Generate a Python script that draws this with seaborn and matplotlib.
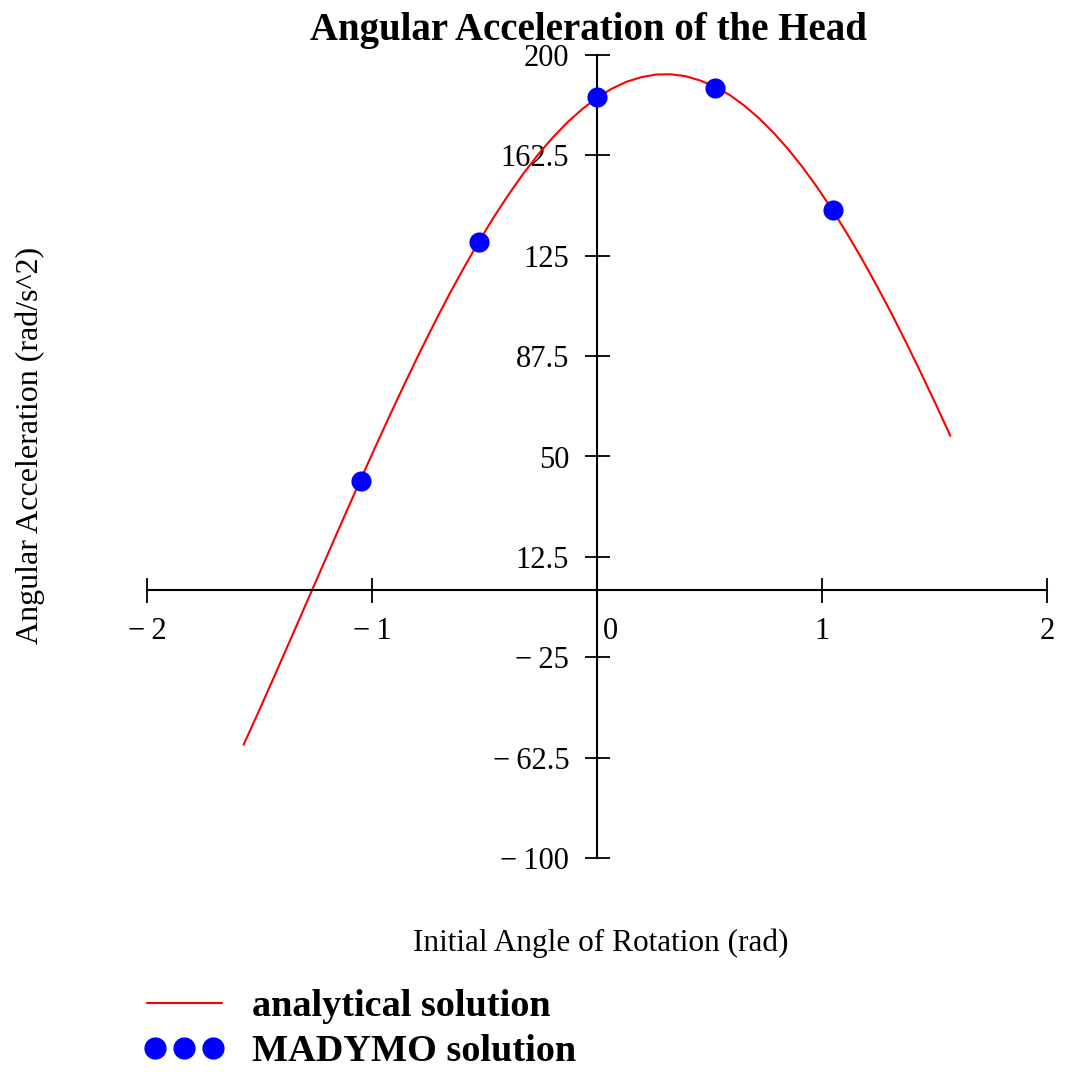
import matplotlib
matplotlib.use("Agg")
import matplotlib.pyplot as plt
import matplotlib.transforms as mtransforms
from matplotlib.lines import Line2D
from matplotlib.legend_handler import HandlerLine2D
import seaborn as sns

# Analytical solution sampled over the initial angle (rad)
angle = [-1.5708, -1.5053, -1.4399, -1.3744, -1.3090, -1.2435, -1.1781,
         -1.1126, -1.0472, -0.9817, -0.9163, -0.8508, -0.7854, -0.7199,
         -0.6545, -0.5890, -0.5236, -0.4581, -0.3927, -0.3272, -0.2618,
         -0.1963, -0.1309, -0.0654, 0.0000, 0.0654, 0.1309, 0.1963,
         0.2618, 0.3272, 0.3927, 0.4581, 0.5236, 0.5890, 0.6545,
         0.7199, 0.7854, 0.8508, 0.9163, 0.9817, 1.0472, 1.1126,
         1.1781, 1.2435, 1.3090, 1.3744, 1.4399, 1.5053, 1.5708]
analytical = [-57.7, -45.6, -33.2, -20.7, -8.1, 4.5, 17.1,
              29.6, 42.0, 54.2, 66.2, 77.9, 89.3, 100.3,
              110.9, 120.9, 130.5, 139.5, 147.9, 155.7, 162.8,
              169.2, 174.9, 179.8, 184.0, 187.4, 190.0, 191.7,
              192.7, 192.8, 192.1, 190.5, 188.2, 185.1, 181.1,
              176.4, 170.9, 164.7, 157.8, 150.2, 142.0, 133.1,
              123.7, 113.8, 103.4, 92.5, 81.2, 69.6, 57.7]

# MADYMO simulation results
madymo_angle = [-1.047, -0.524, 0.000, 0.524, 1.047]
madymo_accel = [40.8, 130.3, 184.3, 187.6, 142.0]

x_ticks = [-2, -1, 0, 1, 2]
x_tick_labels = ["\u2212\u20092", "\u2212\u20091", "0", "1", "2"]
y_ticks = [200, 162.5, 125, 87.5, 50, 12.5, -25, -62.5, -100]
y_tick_labels = ["200", "162.5", "125", "87.5", "50", "12.5",
                 "\u2212\u200925", "\u2212\u200962.5", "\u2212\u2009100"]

sns.set_style("white")
plt.rcParams["font.family"] = ["Liberation Serif", "DejaVu Serif"]
plt.rcParams["text.color"] = "black"
plt.rcParams["axes.labelcolor"] = "black"

W, H = 1067, 1072
fig = plt.figure(figsize=(W / 100, H / 100), dpi=100)
ax = fig.add_axes([147 / W, 1 - 858 / H, (1047 - 147) / W, (858 - 55) / H])

sns.lineplot(x=angle, y=analytical, color="red", linewidth=1.5, ax=ax,
             sort=False, estimator=None)
sns.scatterplot(x=madymo_angle, y=madymo_accel, color="blue", s=210,
                marker="o", edgecolor="blue", linewidth=0, ax=ax, zorder=5)

ax.set_xlim(-2, 2)
ax.set_ylim(-100, 200)

# Axes crossing at the origin
for side in ("top", "right"):
    ax.spines[side].set_visible(False)
ax.spines["left"].set_position(("data", 0))
ax.spines["bottom"].set_position(("data", 0))
for side in ("left", "bottom"):
    ax.spines[side].set_color("black")
    ax.spines[side].set_linewidth(1.5)

ax.set_xticks(x_ticks)
ax.set_xticklabels(x_tick_labels)
ax.set_yticks(y_ticks)
ax.set_yticklabels(y_tick_labels)
ax.tick_params(axis="both", direction="inout", length=18, width=1.3,
               colors="black", labelsize=22)
ax.tick_params(axis="x", pad=10)
ax.tick_params(axis="y", pad=11)
ax.xaxis.set_ticks_position("bottom")
ax.yaxis.set_ticks_position("left")
ax.grid(False)

# the "0" label sits just right of the vertical axis
zero_label = ax.get_xticklabels()[2]
zero_label.set_transform(zero_label.get_transform() +
                         mtransforms.ScaledTranslation(13 / 100, 0, fig.dpi_scale_trans))

fig.text(589 / W, 1 - 40 / H, "Angular Acceleration of the Head",
         ha="center", va="baseline", fontsize=28, fontweight="bold")
fig.text(601 / W, 1 - 943 / H, "Initial Angle of Rotation (rad)",
         ha="center", va="center", fontsize=22.5)
fig.text(30 / W, 1 - 445 / H, "Angular Acceleration (rad/s^2)",
         ha="center", va="center", fontsize=23, rotation=90)

line_handle = Line2D([], [], color="red", linewidth=1.5)
dot_handle = Line2D([], [], color="blue", linestyle="none", marker="o",
                    markersize=15)
fig.legend([line_handle, dot_handle], ["analytical solution", "MADYMO solution"],
           loc="upper left", bbox_to_anchor=(147 / W, 1 - 989 / H),
           borderaxespad=0, borderpad=0,
           frameon=False, numpoints=3, handlelength=1.96, handletextpad=0.8,
           labelspacing=0.26, prop={"weight": "bold", "size": 27.5},
           handler_map={line_handle: HandlerLine2D(marker_pad=0),
                        dot_handle: HandlerLine2D(marker_pad=0.22)})

fig.savefig("out.png", dpi=100)
